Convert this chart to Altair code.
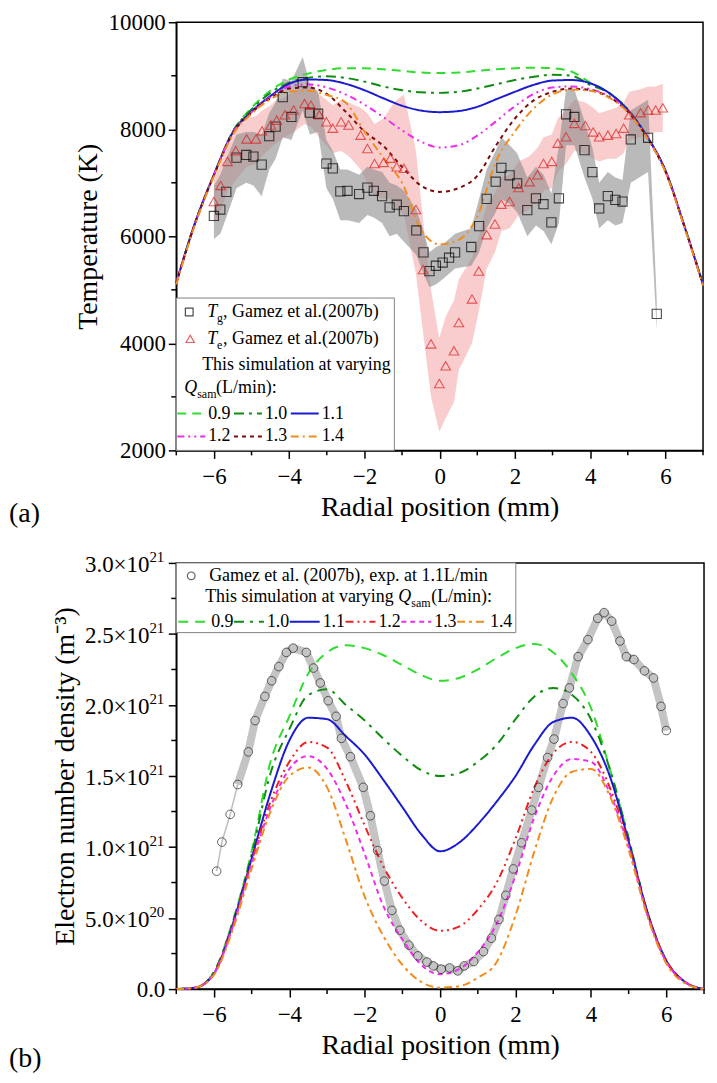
import altair as alt
import pandas as pd

FONT = "Liberation Serif"

# ---------------- common ----------------
x_grid = [-7.0, -6.5, -6.0, -5.5, -5.0, -4.5, -4.0, -3.5, -3.0, -2.5, -2.0, -1.5, -1.0, -0.5, 0.0,
          0.5, 1.0, 1.5, 2.0, 2.5, 3.0, 3.5, 4.0, 4.5, 5.0, 5.5, 6.0, 6.5, 7.0]
q_labels = ["0.9", "1.0", "1.1", "1.2", "1.3", "1.4"]

# ---------------- panel (a): temperature (K) ----------------
Ta_09 = [5130, 6250, 7150, 7960, 8400, 8720, 8930, 9040, 9110, 9140, 9140, 9120, 9090, 9060, 9050,
         9060, 9090, 9120, 9140, 9150, 9140, 9080, 8870, 8680, 8370, 7880, 7230, 6200, 5100]
Ta_10 = [5130, 6250, 7150, 7950, 8370, 8680, 8870, 8960, 8990, 8960, 8890, 8800, 8730, 8690, 8680,
         8700, 8760, 8840, 8920, 8980, 9020, 9000, 8830, 8680, 8370, 7880, 7230, 6200, 5100]
Ta_11 = [5130, 6250, 7150, 7940, 8330, 8620, 8850, 8930, 8920, 8850, 8730, 8580, 8440, 8350, 8320,
         8340, 8420, 8560, 8700, 8830, 8910, 8920, 8860, 8680, 8360, 7880, 7230, 6200, 5100]
Ta_12 = [5130, 6250, 7150, 7930, 8320, 8600, 8800, 8840, 8780, 8650, 8460, 8230, 7980, 7770, 7660,
         7700, 7880, 8150, 8430, 8660, 8780, 8800, 8750, 8620, 8340, 7870, 7220, 6200, 5100]
Ta_13 = [5130, 6250, 7140, 7920, 8310, 8580, 8760, 8780, 8660, 8330, 7960, 7690, 7300, 6950, 6830,
         6900, 7130, 7700, 8200, 8540, 8700, 8760, 8730, 8600, 8330, 7860, 7210, 6200, 5100]
Ta_14 = [5100, 6220, 7120, 7900, 8290, 8560, 8700, 8720, 8640, 8500, 7960, 7470, 7000, 6130, 5850,
         5930, 6370, 7400, 7960, 8390, 8650, 8740, 8720, 8590, 8320, 7850, 7200, 6180, 5080]

tg_x = [-6.00, -5.83, -5.67, -5.40, -5.14, -4.95, -4.73, -4.53, -4.36, -4.17, -3.94, -3.64, -3.45, -3.23,
        -3.01, -2.84, -2.64, -2.45, -2.14, -1.92, -1.75, -1.53, -1.33, -1.14, -0.95, -0.62, -0.43, -0.27,
        -0.10, 0.08, 0.25, 0.41, 0.84, 1.05, 1.25, 1.49, 1.64, 1.86, 2.06, 2.33, 2.56, 2.76, 2.97, 3.17,
        3.36, 3.58, 3.85, 4.06, 4.24, 4.47, 4.67, 4.86, 5.08, 5.54, 5.77]
tg_T = [6380, 6500, 6830, 7470, 7520, 7490, 7340, 7870, 8050, 8600, 8230, 8880, 8310, 8290,
        7360, 7270, 6840, 6850, 6790, 6910, 6850, 6750, 6540, 6590, 6470, 6110, 5700, 5350,
        5450, 5510, 5600, 5700, 5800, 6190, 6700, 7020, 7280, 7140, 6990, 6490, 6710, 6600, 6260, 6710,
        8280, 8230, 7610, 7200, 6520, 6750, 6680, 6650, 7810, 7840, 4550]
tg_lo = [5950, 6050, 6350, 6900, 7000, 6950, 6750, 7250, 7450, 7850, 7800, 8350, 7900, 7950,
         6900, 6700, 6300, 6300, 6250, 6400, 6350, 6250, 6000, 6050, 5900, 5650, 5300, 5050,
         5100, 5200, 5300, 5400, 5450, 5700, 6150, 6450, 6700, 6600, 6450, 6000, 6200, 6100, 5850, 6250,
         7700, 7700, 7100, 6700, 6150, 6300, 6200, 6250, 7000, 7200, 4250]
tg_hi = [6950, 7150, 7450, 7900, 7950, 7950, 7900, 8300, 8500, 8950, 8900, 9350, 8850, 8700,
         7800, 7600, 7250, 7250, 7150, 7300, 7250, 7200, 7000, 6950, 6850, 6500, 6100, 5700,
         5800, 5850, 5950, 6050, 6150, 6700, 7250, 7600, 7850, 7700, 7550, 7100, 7300, 7150, 6800, 7700,
         8750, 8750, 8150, 7650, 7000, 7200, 7100, 7050, 8350, 8550, 4800]

te_x = [-6.00, -5.82, -5.64, -5.42, -5.13, -4.88, -4.72, -4.49, -4.33, -4.11, -3.88, -3.59, -3.42, -3.20,
        -3.01, -2.84, -2.62, -2.42, -2.10, -1.92, -1.73, -1.49, -1.31, -1.14, -0.95, -0.63, -0.44, -0.23,
        -0.01, 0.16, 0.38, 0.51, 0.86, 1.04, 1.25, 1.47, 1.64, 1.86, 2.10, 2.39, 2.60, 2.76, 2.98, 3.14,
        3.36, 3.58, 3.87, 4.08, 4.24, 4.47, 4.69, 4.89, 5.04, 5.34, 5.54, 5.74, 5.93]
te_T = [6650, 6950, 7400, 7600, 7820, 7820, 7970, 8080, 8170, 8270, 8360, 8480, 8450, 8270,
        8140, 8020, 8140, 8080, 7890, 7640, 7360, 7380, 7460, 7300, 7270, 6500, 5380, 3990,
        3250, 3580, 3860, 4390, 4830, 5350, 6030, 6230, 6600, 6650, 6910, 7020, 7150, 7360, 7400, 7740,
        7860, 8110, 8070, 7950, 7860, 7890, 7920, 8020, 8270, 8310, 8360, 8360, 8400]
te_lo = [6250, 6450, 6850, 7050, 7300, 7350, 7500, 7650, 7750, 7850, 7950, 8100, 8050, 7850,
         7700, 7550, 7600, 7500, 7250, 7000, 6750, 6700, 6700, 6500, 6400, 5300, 4200, 3000,
         2350, 2600, 2900, 3500, 4000, 4600, 5400, 5700, 6100, 6150, 6400, 6500, 6650, 6850, 6900, 7200,
         7350, 7600, 7550, 7450, 7400, 7450, 7450, 7550, 7800, 7850, 7900, 7950, 7950]
te_hi = [7050, 7350, 7800, 8000, 8200, 8250, 8350, 8450, 8550, 8600, 8700, 8800, 8800, 8650,
         8550, 8450, 8550, 8500, 8400, 8300, 8100, 8200, 8400, 8550, 8650, 7600, 6300, 5000,
         4100, 4500, 4800, 5200, 5600, 6000, 6600, 6800, 7100, 7150, 7400, 7500, 7650, 7850, 7900, 8200,
         8350, 8550, 8500, 8400, 8300, 8350, 8400, 8500, 8700, 8750, 8800, 8800, 8850]

# ---------------- panel (b): electron number density (x 1e21 m^-3) ----------------
nb_09 = [0, 0.01, 0.12, 0.48, 0.97, 1.60, 1.92, 2.22, 2.37, 2.42, 2.40, 2.35, 2.28, 2.21, 2.17,
         2.19, 2.25, 2.33, 2.40, 2.43, 2.37, 2.22, 1.98, 1.55, 1.06, 0.54, 0.20, 0.05, 0]
nb_10 = [0, 0.01, 0.12, 0.47, 0.95, 1.52, 1.83, 2.07, 2.11, 2.00, 1.89, 1.76, 1.64, 1.54, 1.50,
         1.52, 1.60, 1.72, 1.90, 2.06, 2.12, 2.07, 1.90, 1.55, 1.06, 0.54, 0.20, 0.05, 0]
nb_11 = [0, 0.01, 0.11, 0.46, 0.92, 1.38, 1.75, 1.91, 1.90, 1.78, 1.65, 1.47, 1.28, 1.09, 0.97,
         1.03, 1.16, 1.32, 1.50, 1.72, 1.88, 1.91, 1.78, 1.50, 1.04, 0.54, 0.20, 0.05, 0]
nb_12 = [0, 0.01, 0.11, 0.45, 0.90, 1.32, 1.60, 1.74, 1.70, 1.46, 1.15, 0.86, 0.64, 0.48, 0.41,
         0.44, 0.56, 0.75, 1.06, 1.42, 1.66, 1.74, 1.67, 1.42, 1.02, 0.53, 0.20, 0.05, 0]
nb_13 = [0, 0.01, 0.11, 0.44, 0.88, 1.28, 1.55, 1.64, 1.55, 1.30, 0.95, 0.58, 0.35, 0.17, 0.105,
         0.14, 0.26, 0.46, 0.80, 1.21, 1.50, 1.62, 1.60, 1.38, 1.00, 0.52, 0.19, 0.05, 0]
nb_14 = [0, 0.01, 0.10, 0.42, 0.85, 1.25, 1.50, 1.56, 1.42, 1.05, 0.65, 0.37, 0.17, 0.05, 0.01,
         0.02, 0.08, 0.19, 0.52, 0.97, 1.35, 1.53, 1.55, 1.36, 0.98, 0.51, 0.18, 0.04, 0]

ne_x = [-5.93, -5.79, -5.57, -5.37, -5.09, -4.91, -4.65, -4.47, -4.28, -4.08, -3.90, -3.55, -3.36, -3.18,
        -2.97, -2.76, -2.62, -2.38, -2.04, -1.85, -1.66, -1.48, -1.28, -1.07, -0.83, -0.59, -0.35, -0.18,
        0.03, 0.25, 0.47, 0.64, 0.89, 1.15, 1.36, 1.56, 1.74, 1.94, 2.16, 2.43, 2.61, 2.85, 3.02, 3.26,
        3.43, 3.66, 3.92, 4.18, 4.35, 4.55, 4.77, 4.94, 5.14, 5.42, 5.66, 5.86, 6.00]
ne_n = [0.83, 1.035, 1.23, 1.44, 1.67, 1.89, 2.06, 2.17, 2.27, 2.37, 2.40, 2.37, 2.26, 2.155,
        2.03, 1.92, 1.765, 1.636, 1.42, 1.22, 0.975, 0.76, 0.554, 0.414, 0.309, 0.234, 0.19, 0.163,
        0.14, 0.149, 0.128, 0.163, 0.194, 0.264, 0.358, 0.49, 0.66, 0.846, 1.03, 1.26, 1.42, 1.63, 1.76, 2.01,
        2.12, 2.34, 2.46, 2.61, 2.65, 2.59, 2.45, 2.34, 2.32, 2.24, 2.19, 1.99, 1.82]

# y tick labels of panel (b): mantissa and power of ten
yb_ticks = [0, 0.5, 1.0, 1.5, 2.0, 2.5, 3.0]
yb_mant = ["0.0", "5.0×10", "1.0×10", "1.5×10", "2.0×10", "2.5×10", "3.0×10"]
yb_exp = ["", "20", "21", "21", "21", "21", "21"]

# ---------------- styles ----------------
colors_a = ["#30dc30", "#108c10", "#1a1ad0", "#ee2cee", "#7c0c0c", "#f28c1e"]
dashes_a = [[9, 6], [10, 5, 3, 5], [1, 0], [7, 4, 2, 4, 2, 4], [4, 4], [8, 4, 2, 4]]
colors_b = ["#30dc30", "#108c10", "#1a1ad0", "#ee2020", "#ee2cee", "#f28c1e"]
dashes_b = [[10, 7], [10, 6, 3, 6], [1, 0], [8, 4, 2, 4, 2, 4], [5, 4], [8, 4, 3, 4]]


def sim_frame(series, key):
    rows = []
    for q, ys in zip(q_labels, series):
        for x, y in zip(x_grid, ys):
            rows.append({"x": x, "y": y, key: q})
    return pd.DataFrame(rows)


one = pd.DataFrame({"k": [0]})


def label(text, x, y, size=18, style="normal", align="left"):
    return alt.Chart(one).mark_text(text=text, font=FONT, fontSize=size, fontStyle=style,
                                    align=align, baseline="middle", color="black").encode(
        x=alt.value(x), y=alt.value(y))


def sample(x1, x2, y, color, dash):
    return alt.Chart(one).mark_rule(color=color, strokeDash=dash, strokeWidth=2).encode(
        x=alt.value(x1), x2=alt.value(x2), y=alt.value(y))


def box(x1, x2, y1, y2):
    return alt.Chart(one).mark_rect(fill="white", stroke="#808080", strokeWidth=1).encode(
        x=alt.value(x1), x2=alt.value(x2), y=alt.value(y1), y2=alt.value(y2))


def marker(x, y, shape, color, size):
    return alt.Chart(one).mark_point(shape=shape, filled=False, color=color, size=size,
                                     strokeWidth=1.2).encode(x=alt.value(x), y=alt.value(y))


AX = dict(labelFont=FONT, labelFontSize=23, labelColor="black",
          titleFont=FONT, titleFontSize=28, titleFontWeight="normal", titleColor="black",
          tickSize=8, tickWidth=1.5, tickColor="black", domainColor="black", domainWidth=1.5,
          grid=False)
XAX = dict(AX, labelPadding=7, titlePadding=5, labels=True)
LEFT = -168  # position of the panel letters relative to the plot area

# ================= panel (a) =================
Wa, Ha = 529, 430
sx_a = alt.Scale(domain=[-7, 7], nice=False, zero=False)
sy_a = alt.Scale(domain=[2000, 10000], nice=False, zero=False)
XA = alt.X("x:Q", scale=sx_a, axis=alt.Axis(values=[-6, -4, -2, 0, 2, 4, 6],
                                             title="Radial position (mm)", **XAX))
YA = alt.Y("y:Q", scale=sy_a, axis=alt.Axis(values=[2000, 4000, 6000, 8000, 10000], format="d",
                                             title="Temperature (K)", titlePadding=6, labelPadding=3,
                                             labels=True, **AX))

te_band = pd.DataFrame({"x": te_x, "y": te_lo, "y2": te_hi})
tg_band = pd.DataFrame({"x": tg_x, "y": tg_lo, "y2": tg_hi})
te_pts = pd.DataFrame({"x": te_x, "y": te_T})
tg_pts = pd.DataFrame({"x": tg_x, "y": tg_T})
sim_a = sim_frame([Ta_09, Ta_10, Ta_11, Ta_12, Ta_13, Ta_14], "qa")

layers_a = [
    alt.Chart(te_band).mark_area(color="#f08888", opacity=0.42).encode(x=XA, y=YA, y2="y2:Q"),
    alt.Chart(tg_band).mark_area(color="#8c8c8c", opacity=0.6).encode(x=XA, y=YA, y2="y2:Q"),
    alt.Chart(sim_a).mark_line(strokeWidth=2, interpolate="monotone").encode(
        x=XA, y=YA,
        color=alt.Color("qa:N", scale=alt.Scale(domain=q_labels, range=colors_a), legend=None),
        strokeDash=alt.StrokeDash("qa:N", scale=alt.Scale(domain=q_labels, range=dashes_a), legend=None)),
    alt.Chart(tg_pts).mark_point(shape="square", filled=False, color="black", size=85,
                                 strokeWidth=1.1).encode(x=XA, y=YA),
    alt.Chart(te_pts).mark_point(shape="triangle-up", filled=False, color="#dd2020", size=95,
                                 strokeWidth=1.1).encode(x=XA, y=YA),
    # minor ticks
    alt.Chart(pd.DataFrame({"x": [-7, -5, -3, -1, 1, 3, 5, 7]})).mark_rule(
        color="black", strokeWidth=1.5).encode(x=XA, y=alt.value(Ha), y2=alt.value(Ha + 5)),
    alt.Chart(pd.DataFrame({"y": [3000, 5000, 7000, 9000]})).mark_rule(
        color="black", strokeWidth=1.5).encode(y=YA, x=alt.value(0), x2=alt.value(-5)),
    # legend
    box(0, 219, 277, Ha),
    marker(13, 291, "square", "black", 60),
    label("T", 31, 291, style="italic"),
    label("g", 41, 297, size=12),
    label(", Gamez et al.(2007b)", 47, 291),
    marker(14, 318, "triangle-up", "#dd2020", 70),
    label("T", 31, 318, style="italic"),
    label("e", 41, 324, size=12),
    label(", Gamez et al.(2007b)", 47, 318),
    label("This simulation at varying", 26, 344),
    label("Q", 8, 367, style="italic"),
    label("sam", 21, 373, size=12),
    label("(L/min):", 40, 367),
]
for i in range(6):
    row, col = divmod(i, 3)
    xs = 1 + 57 * col
    yy = 393 + 23 * row
    layers_a.append(sample(xs, xs + 28, yy, colors_a[i], dashes_a[i]))
    layers_a.append(label(q_labels[i], xs + 31, yy))
layers_a.append(label("(a)", LEFT, Ha + 64, size=28))

chart_a = alt.layer(*layers_a).properties(width=Wa, height=Ha)

# ================= panel (b) =================
Wb, Hb = 530, 428
sx_b = alt.Scale(domain=[-7, 7], nice=False, zero=False)
sy_b = alt.Scale(domain=[0, 3], nice=False, zero=False)
XB = alt.X("x:Q", scale=sx_b, axis=alt.Axis(values=[-6, -4, -2, 0, 2, 4, 6],
                                             title="Radial position (mm)", **XAX))
YB = alt.Y("y:Q", scale=sy_b, axis=alt.Axis(
    values=yb_ticks, labels=False,
    title="Electron number density (m⁻³)", titlePadding=88, **AX))

sim_b = sim_frame([nb_09, nb_10, nb_11, nb_12, nb_13, nb_14], "qb")
ne_pts = pd.DataFrame({"x": ne_x, "y": ne_n})
ne_thick = pd.DataFrame({"x": ne_x[3:], "y": ne_n[3:]})
ylab_b = pd.DataFrame({"y": yb_ticks, "m": yb_mant, "e": yb_exp})

layers_b = [
    alt.Chart(ne_pts).mark_line(color="#bdbdbd", strokeWidth=1.5).encode(x=XB, y=YB),
    alt.Chart(ne_thick).mark_line(color="#c4c4c4", strokeWidth=8, strokeJoin="round").encode(x=XB, y=YB),
    alt.Chart(sim_b).mark_line(strokeWidth=2, interpolate="monotone").encode(
        x=XB, y=YB,
        color=alt.Color("qb:N", scale=alt.Scale(domain=q_labels, range=colors_b), legend=None),
        strokeDash=alt.StrokeDash("qb:N", scale=alt.Scale(domain=q_labels, range=dashes_b), legend=None)),
    alt.Chart(ne_pts).mark_point(shape="circle", filled=False, color="#222222", size=75,
                                 strokeWidth=1.0).encode(x=XB, y=YB),
    alt.Chart(pd.DataFrame({"x": [-7, -5, -3, -1, 1, 3, 5, 7]})).mark_rule(
        color="black", strokeWidth=1.5).encode(x=XB, y=alt.value(Hb), y2=alt.value(Hb + 5)),
    alt.Chart(pd.DataFrame({"y": [0.25, 0.75, 1.25, 1.75, 2.25, 2.75]})).mark_rule(
        color="black", strokeWidth=1.5).encode(y=YB, x=alt.value(0), x2=alt.value(-5)),
    # y tick labels with superscript powers of ten
    alt.Chart(ylab_b).transform_filter("datum.e != ''").mark_text(
        align="right", baseline="middle", font=FONT, fontSize=23, color="black", dy=2).encode(
        y=YB, x=alt.value(-27), text="m:N"),
    alt.Chart(ylab_b).transform_filter("datum.e != ''").mark_text(
        align="left", baseline="middle", font=FONT, fontSize=15, color="black", dy=-6).encode(
        y=YB, x=alt.value(-27), text="e:N"),
    alt.Chart(ylab_b).transform_filter("datum.e == ''").mark_text(
        align="right", baseline="middle", font=FONT, fontSize=23, color="black", dy=1).encode(
        y=YB, x=alt.value(-11), text="m:N"),
    # legend
    box(0, 341, 0, 70),
    marker(15, 13, "circle", "#222222", 60),
    label("Gamez et al. (2007b), exp. at 1.1L/min", 33, 13),
    label("This simulation at varying", 29, 34),
    label("Q", 223, 34, style="italic"),
    label("sam", 236, 40, size=12),
    label("(L/min):", 256, 34),
]
for i in range(6):
    xs = 2 + 56 * i
    layers_b.append(sample(xs, xs + 30, 59, colors_b[i], dashes_b[i]))
    layers_b.append(label(q_labels[i], xs + 33, 59))
layers_b.append(label("(b)", LEFT, Hb + 70, size=28))

chart_b = alt.layer(*layers_b).properties(width=Wb, height=Hb)

chart = alt.vconcat(chart_a, chart_b, spacing=20).resolve_scale(
    color="independent", strokeDash="independent"
).properties(
    padding={"left": 0, "top": 0, "right": 0, "bottom": 0}
).configure_view(stroke="black", strokeWidth=1.5)

chart.save("out.html", embed_options={"renderer": "svg", "actions": False})
